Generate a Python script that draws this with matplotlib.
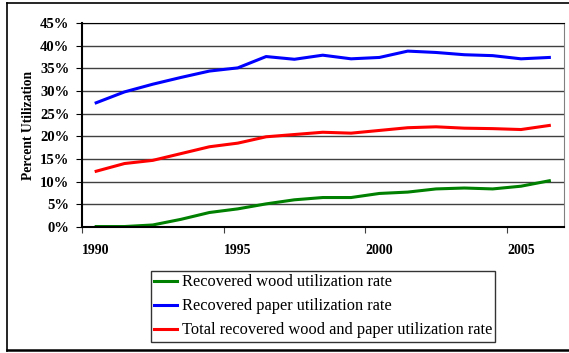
import matplotlib
matplotlib.use("Agg")
import matplotlib.pyplot as plt
from matplotlib.lines import Line2D
from matplotlib.ticker import FuncFormatter

plt.rcParams["font.family"] = ["Liberation Serif", "DejaVu Serif"]

years = list(range(1990, 2007))
paper_rate = [27.4, 29.8, 31.5, 33.0, 34.4, 35.1, 37.6, 37.0, 37.9, 37.1,
              37.4, 38.8, 38.5, 38.0, 37.8, 37.1, 37.4]
total_rate = [12.3, 14.0, 14.7, 16.2, 17.7, 18.5, 19.9, 20.4, 20.9, 20.7,
              21.3, 21.9, 22.1, 21.8, 21.7, 21.5, 22.4]
wood_rate = [0.1, 0.1, 0.45, 1.7, 3.2, 4.0, 5.1, 6.0, 6.5, 6.5,
             7.4, 7.7, 8.4, 8.6, 8.4, 9.0, 10.2]
year_labels = ["1990", "1995", "2000", "2005"]

W, H = 569, 353
fig = plt.figure(figsize=(W / 100, H / 100), dpi=100)
ax = fig.add_axes([82 / W, (H - 227) / H, (563.5 - 82) / W, 204 / H])

xs = list(range(len(years)))
ax.plot(xs, wood_rate, color="#008000", lw=2.2, label="Recovered wood utilization rate")
ax.plot(xs, paper_rate, color="#0000FF", lw=2.2, label="Recovered paper utilization rate")
ax.plot(xs, total_rate, color="#FF0000", lw=2.2,
        label="Total recovered wood and paper utilization rate")

ax.set_xlim(-0.5, len(years) - 0.5)
ax.set_ylim(0, 45)
ax.set_yticks(range(0, 46, 5))
ax.yaxis.set_major_formatter(FuncFormatter(lambda v, p: f"{int(v)}%"))
ax.grid(axis="y", color="#404040", lw=1)
ax.set_axisbelow(True)

# category axis: tick marks between categories, labels under every 5th year
ax.set_xticks([-0.5, 4.5, 9.5, 14.5])
ax.set_xticklabels([])
label_pos = [years.index(int(y)) for y in year_labels]
ax.set_xticks(label_pos, minor=True)
ax.set_xticklabels(year_labels, minor=True, fontweight="bold", fontsize=10)
ax.tick_params(axis="x", which="major", length=4, direction="out", color="#404040")
ax.tick_params(axis="x", which="minor", length=0, pad=12)
ax.tick_params(axis="y", length=4, direction="out", labelsize=10.5, pad=5)
for t in ax.get_yticklabels():
    t.set_fontweight("bold")

ax.set_ylabel("Percent Utilization", fontweight="bold", fontsize=9.8, labelpad=4)

ax.spines["left"].set_color("black")
ax.spines["bottom"].set_color("black")
ax.spines["top"].set_color("black")
ax.spines["right"].set_color("#808080")
ax.spines["left"].set_linewidth(1.5)
ax.spines["bottom"].set_linewidth(1.5)

leg = fig.legend(loc="upper left", bbox_to_anchor=(151 / W, 1 - 271 / H),
                 bbox_transform=fig.transFigure, frameon=True, fancybox=False,
                 edgecolor="black", fontsize=11.8, handlelength=1.4,
                 handletextpad=0.28, borderaxespad=0, borderpad=0.2,
                 labelspacing=0.49)
leg.get_frame().set_linewidth(1)

# outer frame of the picture
fig.add_artist(Line2D([6.5 / W, 6.5 / W], [2.5 / H, 1 - 2.5 / H], color="black", lw=1.2))
fig.add_artist(Line2D([6.5 / W, 1], [1 - 2.5 / H, 1 - 2.5 / H], color="black", lw=1.2))
fig.add_artist(Line2D([6.5 / W, 1], [3 / H, 3 / H], color="black", lw=1.8))

fig.savefig("out.png", dpi=100)
